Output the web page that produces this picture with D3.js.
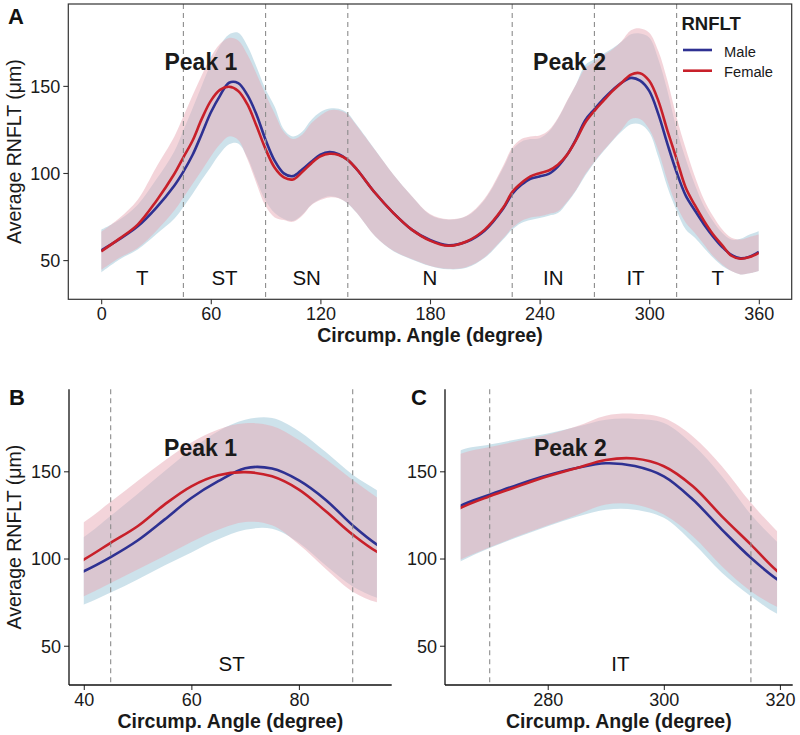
<!DOCTYPE html>
<html><head><meta charset="utf-8">
<script src="https://cdn.jsdelivr.net/npm/d3@7"></script>
<style>body{margin:0;background:#fff} svg text{font-family:"Liberation Sans",Arial,sans-serif}</style>
</head><body>
<svg id="chart" width="800" height="735"></svg>
<script>
// ---------------- data ----------------
const angles = [0,10,20,30,40,45,50,55,60,65,70,75,80,85,90,95,100,105,110,115,120,125,130,135,140,150,160,170,180,190,200,210,220,225,230,235,240,245,250,255,260,265,270,275,280,285,290,295,300,305,310,315,320,325,330,335,340,345,350,355,360];
const maleMean = [55.5,62,69.4,79.9,92.7,100.8,110.3,122.3,134.7,144.3,151.8,151.6,144.8,133.6,119,107,99.8,98.2,102,106.5,110.5,112,110.8,107.5,102,88.5,77,67.5,61.5,58.5,60.5,67,79.5,88,93.2,96.7,98,99.5,103.7,110.4,119.5,130.3,136.6,142.5,147.7,151.9,154.6,153,147.1,133.8,116.6,100.4,87,78.5,70.5,63.5,57.5,53,51,52,54.8];
const femaleMean = [55,62.3,70.4,83.7,99.4,109,118.5,130.9,141.4,147.7,149.5,147.1,139.5,127.1,113.7,103,97.5,96.3,100.5,105.5,109.5,111,110.3,107.5,102,88.5,77,67.5,61.2,58.2,60.7,67.5,80,89,94.2,98,99.9,101.4,104.7,110.4,119,129,135.7,141.5,147.1,151.9,156.5,157.3,152.9,141.4,124.2,108,91.5,81.5,72.5,64.7,58.5,52.5,50.8,51.8,54.2];
const maleUpper = [67.5,73.2,81.8,96.1,112.4,124.5,137,150,162.5,173,179.5,180.5,173,161,148,138,125,121,123.7,130.4,135,137,136.9,134.2,127.5,113.2,99,86.6,76.1,73.2,75.1,84.7,102.8,113.2,118,119.5,120,123.7,131,141,151,162,165.3,168.5,171.6,175.5,179.6,180,177.7,165.3,147.1,125.2,108,93.2,80.9,72.3,65.6,61.8,62.2,64.7,66.6];
const maleLower = [43,50.4,56.1,64.7,73.7,80.5,88,96,103.5,111,116.5,117,109,96,84,77,73.6,72.5,76,81.8,85,86.6,85.6,82.4,77,63.7,55.1,50.4,46.6,44.7,45.6,51.3,61.8,67.5,71.3,73,74.2,75.5,77,82.8,90,98.5,106,112.5,118.5,124,128,128,123.3,109,91.8,78.4,67.5,62.8,57,51.3,46.6,43.7,41.8,42.4,43.7];
const femaleUpper = [66.2,74.2,84.7,103,120.8,132.5,144.5,156,166.5,174,177.5,176,168,157,145,134,123.5,119.5,122,128.5,133,136,136,133.5,127,113,99,86.8,76.5,73.5,75.5,85.5,104,114.5,119.5,121,121.5,124.5,131.5,141.5,151,160.1,163.9,167.5,171,175.8,181.9,183,180.5,170,152.9,131.9,114,98,84.7,75.1,67.5,62.8,61.8,63.3,64.7];
const femaleLower = [44.3,51.3,57,66.6,78.4,86,93.7,101.5,109.5,116.5,121,119,108,94,81,74.5,73,72,75.5,81.5,84.5,86,85.5,82.5,77,63.7,55.3,50.6,46.8,45,46,51.8,62.5,68.5,72.5,74.5,75.1,76.5,78,83.5,90.4,99.4,106.5,113,119,125,131,131,125.2,112.8,95.6,81.3,71.5,65.6,59,52.3,47.5,43.7,41.8,42.4,43.7];

const seriesNames = ["Male","Female"];
const regionNames = ["T","ST","SN","N","IN","IT","T"];
const regionCenters = [22.5,67.5,112.5,180,247.5,292.5,337.5];
const regionBounds = [45,90,135,225,270,315];
const peakNames = ["Peak 1","Peak 2"];
const yTickValues = [50,100,150];
const xTicksA = [0,60,120,180,240,300,360];
const xTicksB = [40,60,80];
const xTicksC = [280,300,320];
const zoomB = [40,94.5];
const zoomC = [265,319.5];

// ---------------- styles ----------------
const lineColor = {Male:"#2E3192", Female:"#C8202A"};
const ribbonColor = {Male:"#9BC5D7", Female:"#E7A9B5"};
const ribbonOpacity = 0.5;

const svg = d3.select("#chart");
const rows = angles.map((a,i)=>({a, mm:maleMean[i], fm:femaleMean[i], mu:maleUpper[i], ml:maleLower[i], fu:femaleUpper[i], fl:femaleLower[i]}));

const panels = [
  {id:"A", px:[68.3,791.7], py:[299.3,4], xd:[-18,378], yd:[27.5,197], xr:[0,360], xticks:xTicksA, box:true, ytitle:true,
   letter:[8,24], peaks:[{i:0,x:54.6},{i:1,x:256.4}], regions:[0,1,2,3,4,5,6], legend:true},
  {id:"B", px:[69,391.7], py:[685,389.3], xd:[37.25,97.25], yd:[27.5,197], xr:zoomB, xticks:xTicksB, box:false, ytitle:true,
   letter:[9,405], peaks:[{i:0,x:61.7}], regions:[1]},
  {id:"C", px:[445,792.7], py:[685,389.3], xd:[262.3,322.2], yd:[27.5,197], xr:zoomC, xticks:xTicksC, box:false, ytitle:false,
   letter:[411,405], peaks:[{i:1,x:283.9}], regions:[5]}
];

panels.forEach(p=>{
  const x = d3.scaleLinear().domain(p.xd).range(p.px);
  const y = d3.scaleLinear().domain(p.yd).range(p.py);
  const g = svg.append("g");
  const clipId = "clip"+p.id;
  svg.append("clipPath").attr("id",clipId).append("rect")
    .attr("x",x(p.xr[0])).attr("y",p.py[1]).attr("width",x(p.xr[1])-x(p.xr[0])).attr("height",p.py[0]-p.py[1]);
  const plot = g.append("g").attr("clip-path",`url(#${clipId})`);
  const curve = d3.curveCatmullRom.alpha(0.5);
  const areaM = d3.area().x(d=>x(d.a)).y0(d=>y(d.ml)).y1(d=>y(d.mu)).curve(curve);
  const areaF = d3.area().x(d=>x(d.a)).y0(d=>y(d.fl)).y1(d=>y(d.fu)).curve(curve);
  plot.append("path").datum(rows).attr("d",areaM).attr("fill",ribbonColor.Male).attr("fill-opacity",ribbonOpacity);
  plot.append("path").datum(rows).attr("d",areaF).attr("fill",ribbonColor.Female).attr("fill-opacity",ribbonOpacity);
  // dashed region boundaries
  g.selectAll(".vb").data(regionBounds.filter(b=>b>p.xd[0]&&b<p.xd[1])).join("line")
    .attr("x1",d=>x(d)).attr("x2",d=>x(d)).attr("y1",p.py[1]).attr("y2",p.py[0])
    .attr("stroke","#8c8c8c").attr("stroke-width",1.1).attr("stroke-dasharray","5,4");
  const lineM = d3.line().x(d=>x(d.a)).y(d=>y(d.mm)).curve(curve);
  const lineF = d3.line().x(d=>x(d.a)).y(d=>y(d.fm)).curve(curve);
  plot.append("path").datum(rows).attr("d",lineM).attr("fill","none").attr("stroke",lineColor.Male).attr("stroke-width",2.6);
  plot.append("path").datum(rows).attr("d",lineF).attr("fill","none").attr("stroke",lineColor.Female).attr("stroke-width",2.6);

  // region labels
  p.regions.forEach(ri=>{
    g.append("text").attr("x",x(regionCenters[ri])).attr("y",y(35.6)).attr("text-anchor","middle")
      .attr("font-size","20.5px").attr("fill","#111").text(regionNames[ri]);
  });
  // peak labels
  p.peaks.forEach(pk=>{
    g.append("text").attr("x",x(pk.x)).attr("y",y(159)).attr("text-anchor","middle")
      .attr("font-size","23px").attr("font-weight","bold").attr("fill","#1a1a1a").text(peakNames[pk.i]);
  });

  // axes
  const xAxis = d3.axisBottom(x).tickValues(p.xticks).tickSize(5).tickPadding(3);
  const yAxis = d3.axisLeft(y).tickValues(yTickValues).tickSize(5).tickPadding(3);
  const gx = g.append("g").attr("transform",`translate(0,${p.py[0]})`).call(xAxis);
  const gy = g.append("g").attr("transform",`translate(${p.px[0]},0)`).call(yAxis);
  [gx,gy].forEach(a=>{
    a.select(".domain").remove();
    a.selectAll(".tick line").attr("stroke","#333").attr("stroke-width",1.1);
    a.selectAll(".tick text").attr("font-size","18px").attr("fill","#1a1a1a").attr("font-family","Liberation Sans, Arial, sans-serif");
  });
  gx.selectAll(".tick text").attr("dy","0.72em");
  gy.selectAll(".tick text").attr("dy","0.35em");
  if(p.box){
    g.append("rect").attr("x",p.px[0]).attr("y",p.py[1]).attr("width",p.px[1]-p.px[0]).attr("height",p.py[0]-p.py[1])
      .attr("fill","none").attr("stroke","#333").attr("stroke-width",1.2);
  } else {
    g.append("line").attr("x1",p.px[0]).attr("x2",p.px[0]).attr("y1",p.py[1]).attr("y2",p.py[0]).attr("stroke","#111").attr("stroke-width",1.3);
    g.append("line").attr("x1",p.px[0]).attr("x2",p.px[1]).attr("y1",p.py[0]).attr("y2",p.py[0]).attr("stroke","#111").attr("stroke-width",1.3);
  }
  // axis titles
  g.append("text").attr("x",(p.px[0]+p.px[1])/2).attr("y",p.py[0]+43).attr("text-anchor","middle")
    .attr("font-size","19.5px").attr("font-weight","bold").attr("fill","#1a1a1a").text("Circump. Angle (degree)");
  if(p.ytitle){
    g.append("text").attr("transform",`translate(20.5,${(p.py[0]+p.py[1])/2}) rotate(-90)`).attr("text-anchor","middle")
      .attr("font-size","19.5px").attr("fill","#1a1a1a").text("Average RNFLT (μm)");
  }
  // panel letter
  g.append("text").attr("x",p.letter[0]).attr("y",p.letter[1]).attr("font-size","22px").attr("font-weight","bold")
    .attr("fill","#111").text(p.id);

  if(p.legend){
    const lg = g.append("g");
    lg.append("text").attr("x",681.5).attr("y",30).attr("font-size","18.5px").attr("font-weight","bold").attr("fill","#1a1a1a").text("RNFLT");
    seriesNames.forEach((s,i)=>{
      const yy = 50 + i*20.7;
      lg.append("line").attr("x1",683).attr("x2",712).attr("y1",yy).attr("y2",yy).attr("stroke",lineColor[s]).attr("stroke-width",2.6);
      lg.append("text").attr("x",724).attr("y",yy+6.5).attr("font-size","14.7px").attr("fill","#1a1a1a").text(s);
    });
  }
});
</script>
</body></html>
